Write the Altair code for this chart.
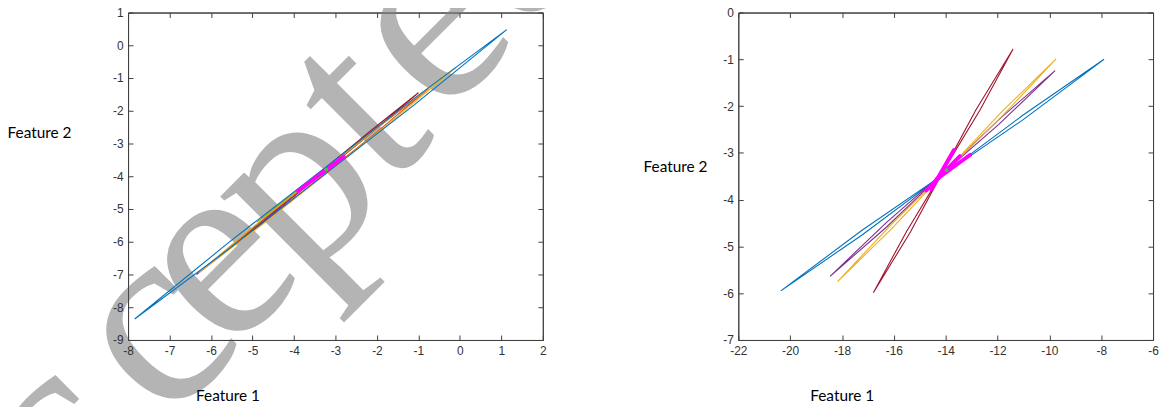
import altair as alt
import pandas as pd

# ---------------- data ----------------
# Left panel: thin closed loops (Feature 1, Feature 2); listed bottom layer first
left_names = ["darkred", "purple", "green", "orange", "yellow", "blue"]
left_colors = ["#A2142F", "#7E2F8E", "#77AC30", "#D95319", "#EDB120", "#0072BD"]

lr_x = [-5.6, -4.45, -3.3, -2.15, -1.0, -2.15, -3.3, -4.45, -5.6]
lr_y = [-6.25, -5.01, -3.81, -2.61, -1.45, -2.69, -3.89, -5.09, -6.25]

lp_x = [-6.35, -5.125, -3.9, -5.125, -6.35]
lp_y = [-7.0, -5.71, -4.5, -5.79, -7.0]

lg_x = [-4.9, -3.55, -2.2, -3.55, -4.9]
lg_y = [-5.4, -4.04, -2.75, -4.11, -5.4]

lo_x = [-5.8, -4.54, -3.275, -2.01, -0.75, -2.01, -3.275, -4.54, -5.8]
lo_y = [-6.45, -5.11, -3.825, -2.54, -1.32, -2.66, -3.945, -5.23, -6.45]

ly_x = [-6.3, -4.75, -3.2, -1.65, -0.1, -1.65, -3.2, -4.75, -6.3]
ly_y = [-6.95, -5.30, -3.735, -2.17, -0.68, -2.33, -3.895, -5.46, -6.95]

lb_x = [-7.84, -5.6, -3.35, -1.1, 1.13, -1.1, -3.35, -5.6, -7.84]
lb_y = [-8.36, -6.05, -3.835, -1.62, 0.48, -1.82, -4.035, -6.25, -8.36]

left_mag_x = [-3.9, -2.8]
left_mag_y = [-4.45, -3.4]
left_dot_x = [-3.22]
left_dot_y = [-3.79]

# Right panel: figure-eight loops crossing near (-14, -3.4)
right_names = ["blue", "purple", "yellow", "darkred"]
right_colors = ["#0072BD", "#7E2F8E", "#EDB120", "#A2142F"]

rb_x = [-20.36, -17.24, -14.13, -11.01, -7.89, -11.01, -14.13, -17.24, -20.36]
rb_y = [-5.95, -4.66, -3.475, -2.29, -1.0, -2.19, -3.475, -4.76, -5.95]

rp_x = [-18.46, -16.29, -14.12, -11.95, -9.78, -11.95, -14.12, -16.29, -18.46]
rp_y = [-5.64, -4.49, -3.44, -2.39, -1.24, -2.29, -3.44, -4.59, -5.64]

ryl_x = [-18.17, -16.06, -13.955, -11.85, -9.74, -11.85, -13.955, -16.06, -18.17]
ryl_y = [-5.75, -4.51, -3.37, -2.23, -0.99, -2.13, -3.37, -4.61, -5.75]

rr_x = [-16.79, -15.52, -14.095, -12.67, -11.4, -12.83, -14.095, -15.36, -16.79]
rr_y = [-5.99, -4.69, -3.385, -2.08, -0.78, -2.08, -3.385, -4.69, -5.99]

rm1_x = [-13.68, -14.55]
rm1_y = [-2.94, -3.78]
rm2_x = [-13.45, -14.75]
rm2_y = [-3.07, -3.80]
rm3_x = [-13.05, -14.35]
rm3_y = [-3.04, -3.56]
right_dot_x = [-13.96]
right_dot_y = [-3.37]

left_xdom = [-8, 2]
left_ydom = [-9, 1]
left_xticks = [-8, -7, -6, -5, -4, -3, -2, -1, 0, 1, 2]
left_yticks = [-9, -8, -7, -6, -5, -4, -3, -2, -1, 0, 1]

right_xdom = [-22, -6]
right_ydom = [-7, 0]
right_xticks = [-22, -20, -18, -16, -14, -12, -10, -8, -6]
right_yticks = [-7, -6, -5, -4, -3, -2, -1, 0]

# watermark word, drawn letter by letter
watermark_letters = list("Accepted")
# letter centres in pixels relative to the left plot's top-left corner (style)
WM_POS = [(-168, 518), (-78, 428), (22, 318), (85, 248),
          (165, 172), (230, 95), (300, 10), (385, -80)]


# ---------------- tables ----------------
def long_table(names, xs_list, ys_list, key="series"):
    rows = []
    for n, xs, ys in zip(names, xs_list, ys_list):
        for i, (x, y) in enumerate(zip(xs, ys)):
            rows.append({key: n, "x": x, "y": y, "idx": i})
    return pd.DataFrame(rows)


left_loops = long_table(left_names, [lr_x, lp_x, lg_x, lo_x, ly_x, lb_x],
                        [lr_y, lp_y, lg_y, lo_y, ly_y, lb_y])
left_mag = long_table(["m1"], [left_mag_x], [left_mag_y], key="seg")
left_dot = pd.DataFrame({"x": left_dot_x, "y": left_dot_y})

right_loops = long_table(right_names, [rb_x, rp_x, ryl_x, rr_x],
                         [rb_y, rp_y, ryl_y, rr_y])
right_mag = long_table(["m1", "m2", "m3"], [rm1_x, rm2_x, rm3_x],
                       [rm1_y, rm2_y, rm3_y], key="seg")
right_dot = pd.DataFrame({"x": right_dot_x, "y": right_dot_y})

FRAME = "#404040"
LABEL = "#333333"
W, H = 418, 330


def make_panel(loops, names, colors, mag, dot, xdom, ydom, xticks, yticks,
               xtitle_x, ytitle_x, ytitle_y, watermark=False):
    xsc = alt.Scale(domain=xdom, nice=False, zero=False)
    ysc = alt.Scale(domain=ydom, nice=False, zero=False)
    common = dict(labelFont="Liberation Sans", labelFontSize=12, labelColor=LABEL,
                  labelExpr="'' + datum.value", tickColor=FRAME, tickSize=5,
                  tickWidth=1, domain=False, grid=False, offset=-5, zindex=1,
                  labelFlush=False, labelOverlap=False)
    ttl = dict(titleFont="Lato", titleFontSize=15.5, titleFontWeight="normal",
               titleColor="#000000", titleAngle=0, titleAlign="left",
               titleBaseline="middle")
    bottom = alt.Axis(orient="bottom", values=xticks, labelPadding=6,
                      title="Feature 1", titleX=xtitle_x, titleY=61, **ttl, **common)
    left = alt.Axis(orient="left", values=yticks, labelPadding=5,
                    title="Feature 2", titleX=ytitle_x, titleY=ytitle_y, **ttl, **common)
    inner = dict(labels=False, title=None, ticks=True, tickSize=5, tickWidth=1,
                 tickColor=FRAME, offset=-5, domain=False, grid=False, zindex=1)
    top = alt.Axis(orient="top", values=xticks, **inner)
    right = alt.Axis(orient="right", values=yticks, **inner)
    frame = dict(grid=True, gridColor=FRAME, gridOpacity=1, gridWidth=1,
                 labels=False, ticks=False, domain=False, title=None, zindex=1)
    fx = alt.Axis(orient="bottom", values=xdom, **frame)
    fy = alt.Axis(orient="left", values=ydom, **frame)

    layers = []
    if watermark:
        for ch, (px, py) in zip(watermark_letters, WM_POS):
            layers.append(
                alt.Chart(pd.DataFrame({"t": [ch]}))
                .mark_text(font="Liberation Serif", fontSize=265, color="#b4b4b4",
                           angle=315, align="center", baseline="middle")
                .encode(text="t:N", x=alt.value(px), y=alt.value(py))
            )
    layers.append(
        alt.Chart(loops).mark_line(strokeWidth=1.1).encode(
            x=alt.X("x:Q", scale=xsc, axis=bottom),
            y=alt.Y("y:Q", scale=ysc, axis=left),
            color=alt.Color("series:N", scale=alt.Scale(domain=names, range=colors),
                            legend=None),
            detail="series:N",
            order="idx:Q",
        )
    )
    layers.append(
        alt.Chart(mag).mark_line(strokeWidth=4, color="#FF00FF", strokeCap="round").encode(
            x=alt.X("x:Q", scale=xsc, axis=top),
            y=alt.Y("y:Q", scale=ysc, axis=right),
            detail="seg:N",
            order="idx:Q",
        )
    )
    layers.append(
        alt.Chart(dot).mark_point(filled=True, size=14, color="#33CC33", opacity=1).encode(
            x=alt.X("x:Q", scale=xsc, axis=fx),
            y=alt.Y("y:Q", scale=ysc, axis=fy),
        )
    )
    return alt.layer(*layers).resolve_axis(x="independent", y="independent").properties(
        width=W, height=H)


left_panel = make_panel(left_loops, left_names, left_colors, left_mag, left_dot,
                        left_xdom, left_ydom, left_xticks, left_yticks,
                        xtitle_x=68, ytitle_x=-127, ytitle_y=121, watermark=True)
right_panel = make_panel(right_loops, right_names, right_colors, right_mag, right_dot,
                         right_xdom, right_ydom, right_xticks, right_yticks,
                         xtitle_x=72, ytitle_x=-101, ytitle_y=155)

chart = alt.hconcat(left_panel, right_panel, spacing=197, bounds="flush").properties(
    padding={"left": -209, "top": -218, "right": 0, "bottom": -282},
    background="white",
).configure_view(stroke=FRAME, strokeWidth=1)

chart.save("out.html", embed_options={"renderer": "svg", "actions": False})
